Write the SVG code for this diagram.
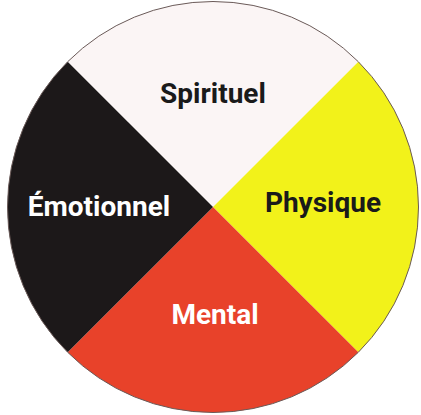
<svg xmlns="http://www.w3.org/2000/svg" width="421" height="415" viewBox="0 0 421 415">
<style>
.seg{stroke:none}
.lbl{font-family:Roboto,"Liberation Sans",sans-serif;font-weight:bold;font-size:28px;text-anchor:middle}
.dark{fill:#1a1a1a}
.light{fill:#ffffff}
</style>
<rect width="421" height="415" fill="#ffffff"/>
<g id="spirituel">
<path class="seg" d="M213 207 L67.7 61.7 A205.5 205.5 0 0 1 358.3 61.7 Z" fill="#fbf5f5"/>
<text class="lbl dark" x="213" y="103">Spirituel</text>
</g>
<g id="physique">
<path class="seg" d="M213 207 L358.3 61.7 A205.5 205.5 0 0 1 358.3 352.3 Z" fill="#f2f21a"/>
<text class="lbl dark" x="323" y="212">Physique</text>
</g>
<g id="mental">
<path class="seg" d="M213 207 L358.3 352.3 A205.5 205.5 0 0 1 67.7 352.3 Z" fill="#e8422a"/>
<text class="lbl light" x="215" y="324">Mental</text>
</g>
<g id="emotionnel">
<path class="seg" d="M213 207 L67.7 352.3 A205.5 205.5 0 0 1 67.7 61.7 Z" fill="#1c1819"/>
<text class="lbl light" x="99" y="216">Émotionnel</text>
</g>
<g id="connectors">
<circle cx="213" cy="207" r="205.5" fill="none" stroke="#6a5a58" stroke-width="1"/>
</g>
</svg>
